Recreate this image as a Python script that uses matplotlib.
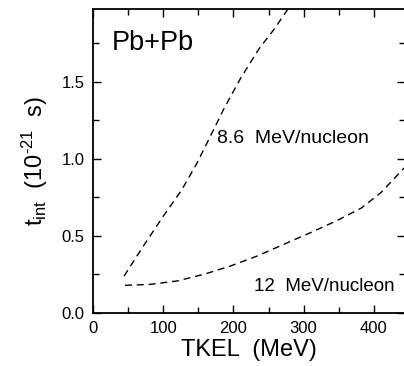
import numpy as np
import matplotlib.pyplot as plt
from matplotlib.ticker import MultipleLocator

plt.rcParams['font.family'] = ['Liberation Sans', 'DejaVu Sans']
plt.rcParams['mathtext.fontset'] = 'custom'
plt.rcParams['mathtext.rm'] = 'Liberation Sans'
plt.rcParams['mathtext.it'] = 'Liberation Sans'

# interaction time vs total kinetic energy loss, Pb+Pb
tkel_86 = [44.3, 71.9, 100.4, 126.7, 148, 172, 186, 210, 236, 258, 279]
tint_86 = [0.239, 0.434, 0.629, 0.80, 0.97, 1.19, 1.32, 1.52, 1.71, 1.84, 1.98]

tkel_12 = [45.7, 81.4, 119.5, 157.6, 195.7, 233.8, 271.9, 310, 348, 382, 410, 443]
tint_12 = [0.179, 0.185, 0.207, 0.250, 0.304, 0.369, 0.445, 0.521, 0.60, 0.68, 0.78, 0.94]

fig = plt.figure(figsize=(4.04, 3.66), dpi=100)
ax = fig.add_axes([0.230, 0.145, 0.772, 0.830])

dash = (0, (5, 3.5))
ax.plot(tkel_86, tint_86, color='black', lw=1.0, linestyle=dash)
ax.plot(tkel_12, tint_12, color='black', lw=1.0, linestyle=dash)

ax.set_xlim(0, 444)
ax.set_ylim(0, 1.97)
ax.xaxis.set_major_locator(MultipleLocator(100))
ax.xaxis.set_minor_locator(MultipleLocator(50))
ax.yaxis.set_major_locator(MultipleLocator(0.5))
ax.yaxis.set_minor_locator(MultipleLocator(0.25))
ax.yaxis.set_major_formatter(lambda v, p: f'{v:.1f}')

ax.tick_params(which='both', direction='in', top=True, right=True,
               labelsize=12, width=1.0)
ax.tick_params(which='major', length=6, pad=6)
ax.tick_params(which='minor', length=4)
for s in ax.spines.values():
    s.set_linewidth(1.3)

ax.set_xlabel('TKEL  (MeV)', fontsize=17, labelpad=2)
ax.set_ylabel('$t_{\\rm int}$  (10$^{\u2010 21}$  s)', fontsize=17, labelpad=8)

ax.text(27, 1.75, 'Pb+Pb', fontsize=19.5, va='center', ha='left')
ax.text(177, 1.13, '8.6  MeV/nucleon', fontsize=14, va='center', ha='left')
ax.text(229, 0.17, '12  MeV/nucleon', fontsize=13.5, va='center', ha='left')

fig.savefig('out.png', dpi=100)
